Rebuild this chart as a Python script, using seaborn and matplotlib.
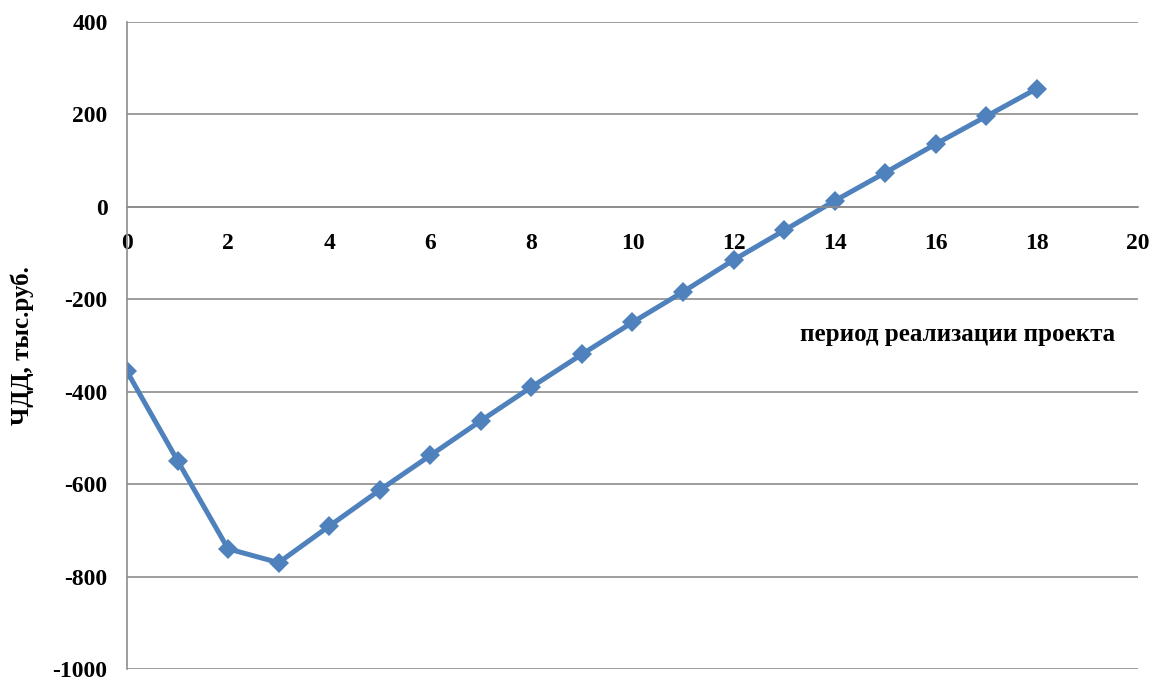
import matplotlib
matplotlib.use('Agg')
import matplotlib.pyplot as plt
import seaborn as sns
import pandas as pd

# period of the project and NPV (ЧДД), thousand rubles
periods = list(range(19))
npv = [-356, -549, -740, -770, -691, -613, -538, -463, -390, -319,
       -250, -184, -115, -51, 13, 74, 136, 196, 256]

x_ticks = [0, 2, 4, 6, 8, 10, 12, 14, 16, 18, 20]
y_ticks = [-1000, -800, -600, -400, -200, 0, 200, 400]

sns.set_style('white')
plt.rcParams['font.family'] = ['Liberation Serif', 'DejaVu Serif']
plt.rcParams['axes.unicode_minus'] = False
plt.rcParams['text.color'] = 'black'
plt.rcParams['xtick.labelcolor'] = 'black'
plt.rcParams['ytick.labelcolor'] = 'black'

df = pd.DataFrame({'period': periods, 'npv': npv})

fig = plt.figure(figsize=(11.52, 6.84), dpi=100)
ax = fig.add_axes([0.1102, 0.022, 0.8776, 0.9458])

sns.lineplot(data=df, x='period', y='npv', ax=ax, color='#4F81BD',
             linewidth=3.6, marker='D', markersize=10, markeredgewidth=0)

ax.set_xlim(0, 20)
ax.set_ylim(-1000, 400)
ax.set_xticks(x_ticks)
ax.set_yticks(y_ticks)
ax.yaxis.grid(True, color='#8c8c8c', linewidth=1.2)
ax.set_axisbelow(True)

for s in ['top', 'right']:
    ax.spines[s].set_visible(False)
ax.spines['bottom'].set_position(('data', 0))
ax.spines['bottom'].set_color('#8c8c8c')
ax.spines['left'].set_color('#8c8c8c')
ax.spines['bottom'].set_linewidth(1.2)
ax.spines['left'].set_linewidth(1.2)

ax.tick_params(axis='x', direction='in', length=6, width=1.2, color='#8c8c8c',
               pad=19, labelsize=17)
ax.tick_params(axis='y', direction='out', length=6, width=1.2, color='#8c8c8c',
               pad=8, labelsize=17)
for lab in ax.get_xticklabels() + ax.get_yticklabels():
    lab.set_fontweight('bold')

ax.set_xlabel('')
ax.set_ylabel('')
fig.text(0.019, 0.495, 'ЧДД, тыс.руб.', rotation=90, ha='center', va='center',
         fontsize=18, fontweight='bold')
ax.text(0.822, 0.517, 'период реализации проекта', transform=ax.transAxes,
        ha='center', va='center', fontsize=18, fontweight='bold')

fig.savefig('out.png', dpi=100)
